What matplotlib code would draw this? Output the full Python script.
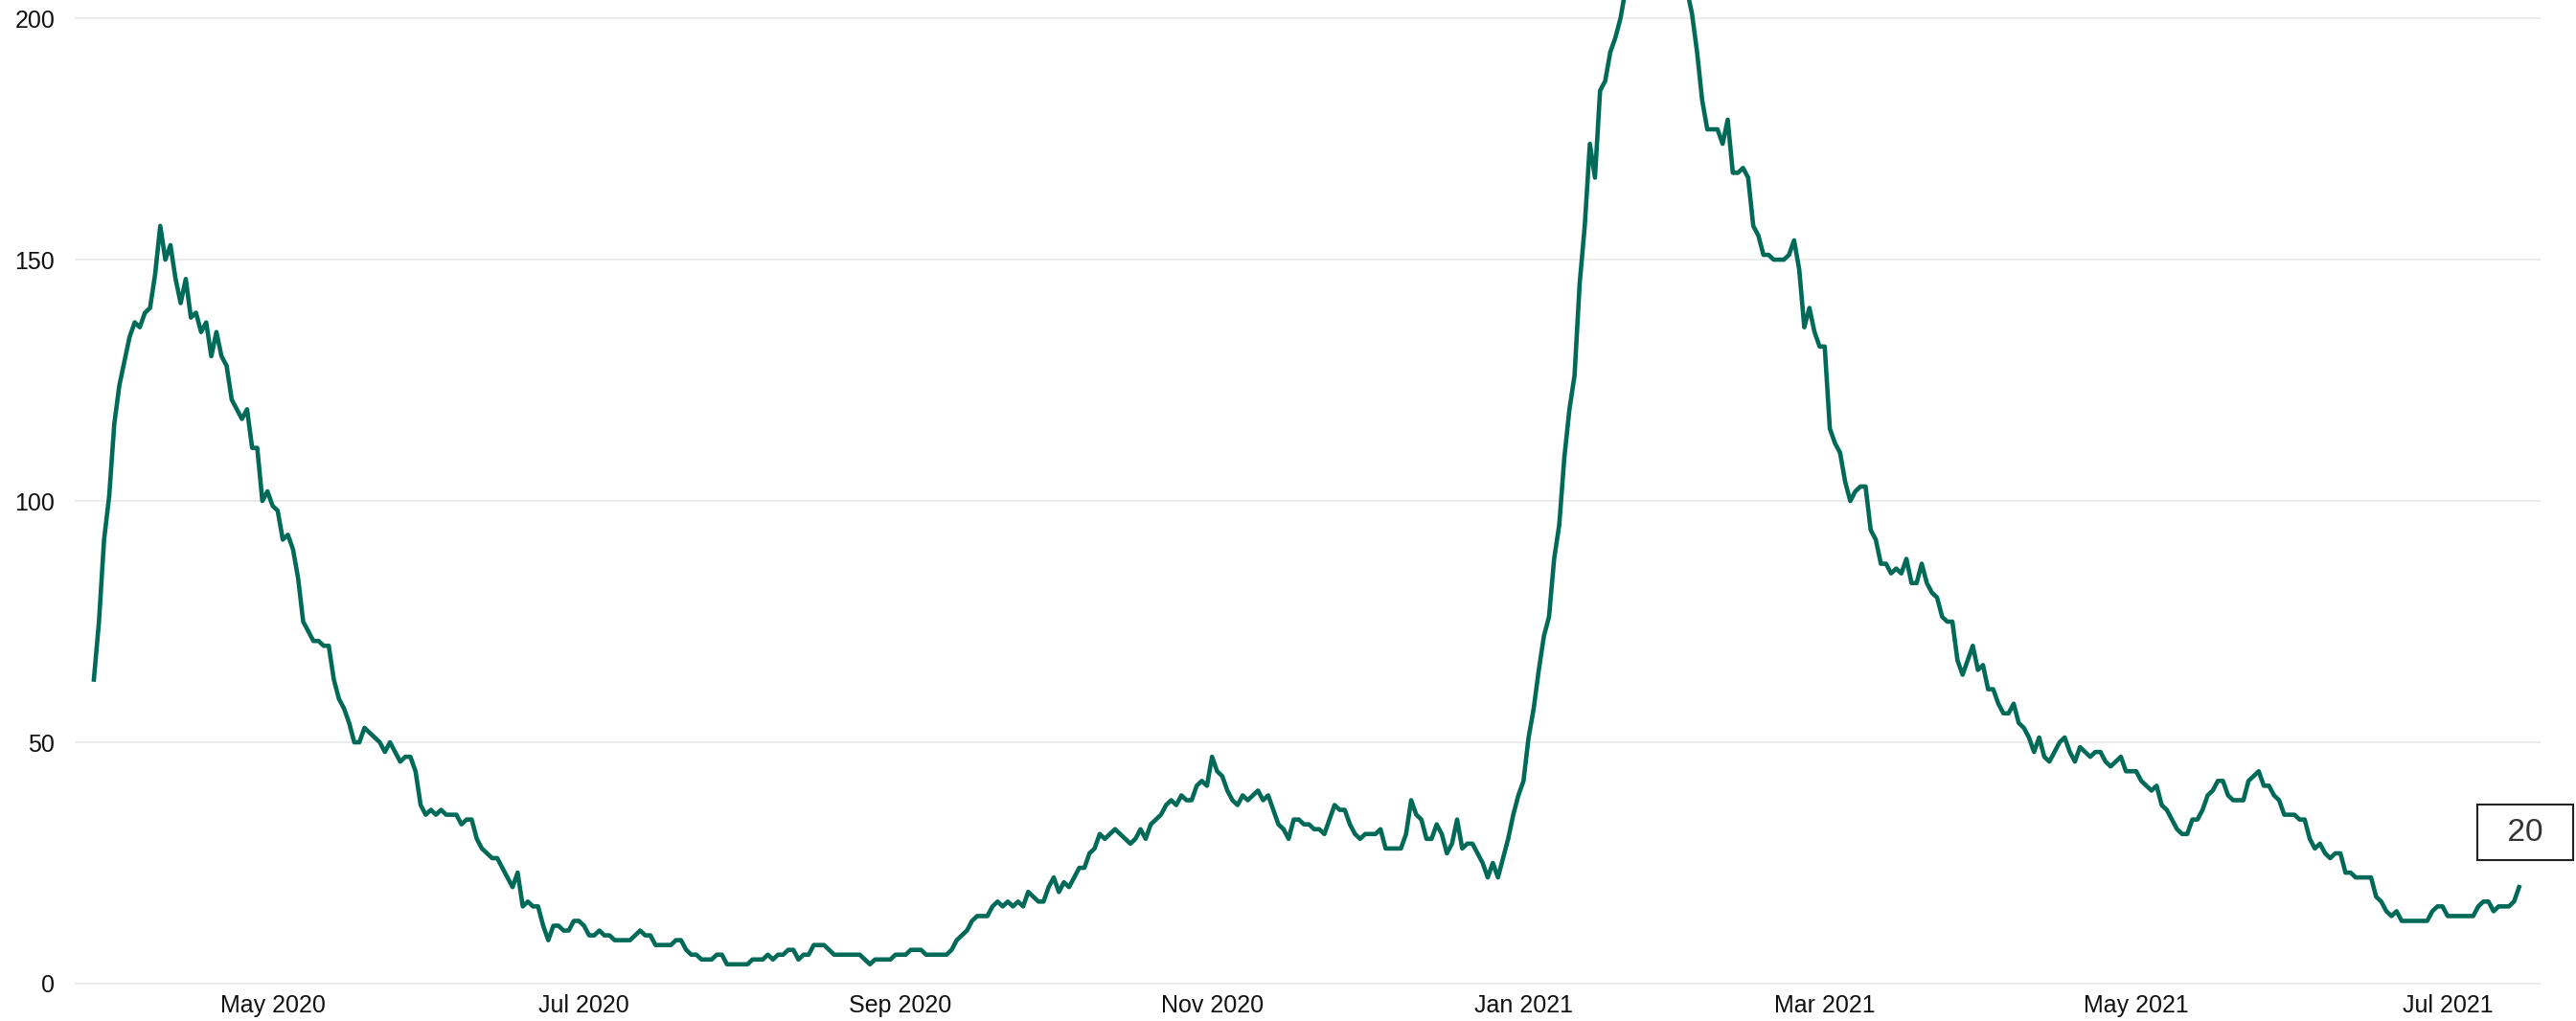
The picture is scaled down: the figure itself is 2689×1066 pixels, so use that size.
import matplotlib
matplotlib.use("Agg")
import matplotlib.pyplot as plt
import matplotlib.dates as mdates
import pandas as pd

# daily values from 27 Mar 2020 to 15 Jul 2021
start_date = "2020-03-27"
values = [
    # spring 2020
    63, 75, 92, 101, 116, 124, 129, 134, 137, 136,
    139, 140, 147, 157, 150, 153, 146, 141, 146, 138,
    139, 135, 137, 130, 135, 130, 128, 121, 119, 117,
    119, 111, 111, 100, 102, 99, 98, 92, 93, 90,
    84, 75, 73, 71, 71, 70, 70, 63, 59, 57,
    54, 50, 50, 53, 52, 51, 50, 48, 50, 48,
    46, 47, 47, 44, 37, 35, 36, 35, 36, 35,
    35, 35, 33, 34, 34, 30, 28, 27, 26, 26,
    24,
    # summer 2020
    22, 20, 23, 16, 17, 16, 16, 12, 9, 12,
    12, 11, 11, 13, 13, 12, 10, 10, 11, 10,
    10, 9, 9, 9, 9, 10, 11, 10, 10, 8,
    8, 8, 8, 9, 9, 7, 6, 6, 5, 5,
    5, 6, 6, 4, 4, 4, 4, 4, 5, 5,
    5, 6, 5, 6, 6, 7, 7, 5, 6, 6,
    8, 8, 8, 7, 6, 6, 6, 6, 6, 6,
    5, 4, 5, 5, 5, 5, 6, 6, 6, 7,
    7,
    # autumn 2020
    7, 6, 6, 6, 6, 6, 7, 9, 10,
    11, 13, 14, 14, 14, 16, 17, 16, 17, 16,
    17, 16, 19, 18, 17, 17, 20, 22, 19, 21,
    20, 22, 24, 24, 27, 28, 31, 30, 31, 32,
    31, 30, 29, 30, 32, 30, 33, 34, 35, 37,
    38, 37, 39, 38, 38, 41, 42, 41, 47, 44,
    43, 40, 38, 37, 39, 38, 39, 40, 38, 39,
    36, 33, 32, 30, 34, 34, 33, 33, 32, 32,
    31,
    # winter 2020/21
    34, 37, 36, 36, 33, 31, 30, 31, 31,
    31, 32, 28, 28, 28, 28, 31, 38, 35, 34,
    30, 30, 33, 31, 27, 29, 34, 28, 29, 29,
    27, 25, 22, 25, 22, 26, 30, 35, 39, 42,
    51, 57, 65, 72, 76, 88, 95, 109, 119, 126,
    145, 157, 174, 167, 185, 187, 193, 196, 200, 206,
    211, 215, 219, 222, 224, 225, 224, 221, 218, 214,
    210, 206, 201, 193, 183, 177, 177, 177, 174, 179,
    168,
    # spring 2021
    168, 169, 167, 157, 155, 151, 151, 150, 150,
    150, 151, 154, 148, 136, 140, 135, 132, 132, 115,
    112, 110, 104, 100, 102, 103, 103, 94, 92, 87,
    87, 85, 86, 85, 88, 83, 83, 87, 83, 81,
    80, 76, 75, 75, 67, 64, 67, 70, 65, 66,
    61, 61, 58, 56, 56, 58, 54, 53, 51, 48,
    51, 47, 46, 48, 50, 51, 48, 46, 49, 48,
    47, 48, 48, 46, 45, 46, 47, 44, 44, 44,
    42,
    # summer 2021
    41, 40, 41, 37, 36, 34, 32, 31, 31,
    34, 34, 36, 39, 40, 42, 42, 39, 38, 38,
    38, 42, 43, 44, 41, 41, 39, 38, 35, 35,
    35, 34, 34, 30, 28, 29, 27, 26, 27, 27,
    23, 23, 22, 22, 22, 22, 18, 17, 15, 14,
    15, 13, 13, 13, 13, 13, 13, 15, 16, 16,
    14, 14, 14, 14, 14, 14, 16, 17, 17, 15,
    16, 16, 16, 17, 20,
]
y_ticks = [0, 50, 100, 150, 200]
tick_months = [1, 3, 5, 7, 9, 11]

dates = pd.date_range(start_date, periods=len(values), freq="D")

plt.rcParams["font.family"] = ["Liberation Sans", "DejaVu Sans"]

W, H = 2689, 1066
fig = plt.figure(figsize=(W / 100, H / 100), dpi=100)
ax = fig.add_axes([78 / W, 36.5 / H, (2652 - 78) / W, 1 - 36.5 / H])

ax.plot(dates, values, color="#006a58", lw=3.3, solid_joinstyle="round", zorder=3)

ax.set_ylim(-0.5, 203.8)
ax.set_xlim(dates[0] - pd.Timedelta(days=3.75), dates[0] + pd.Timedelta(days=479.2))
ax.set_yticks(y_ticks)
ax.xaxis.set_major_locator(mdates.MonthLocator(bymonth=tick_months))
ax.xaxis.set_major_formatter(mdates.DateFormatter("%b %Y"))

ax.grid(axis="y", color="#ebebeb", lw=1.5)
ax.grid(axis="x", visible=False)
ax.set_axisbelow(True)
for s in ax.spines.values():
    s.set_visible(False)
ax.tick_params(axis="both", length=0, labelsize=18, labelcolor="#111111")
ax.tick_params(axis="y", pad=15)
ax.tick_params(axis="x", pad=6)

# boxed label for the latest value
ax.annotate(
    f"  {values[-1]}  ",
    xy=(dates[-1], values[-1]),
    xytext=(4.5, 41),
    textcoords="offset points",
    ha="center",
    va="center",
    fontsize=24,
    color="#333333",
    annotation_clip=False,
    bbox=dict(boxstyle="square,pad=0.4", fc="white", ec="#222222", lw=1.5),
)

fig.savefig("out.png", dpi=100)
